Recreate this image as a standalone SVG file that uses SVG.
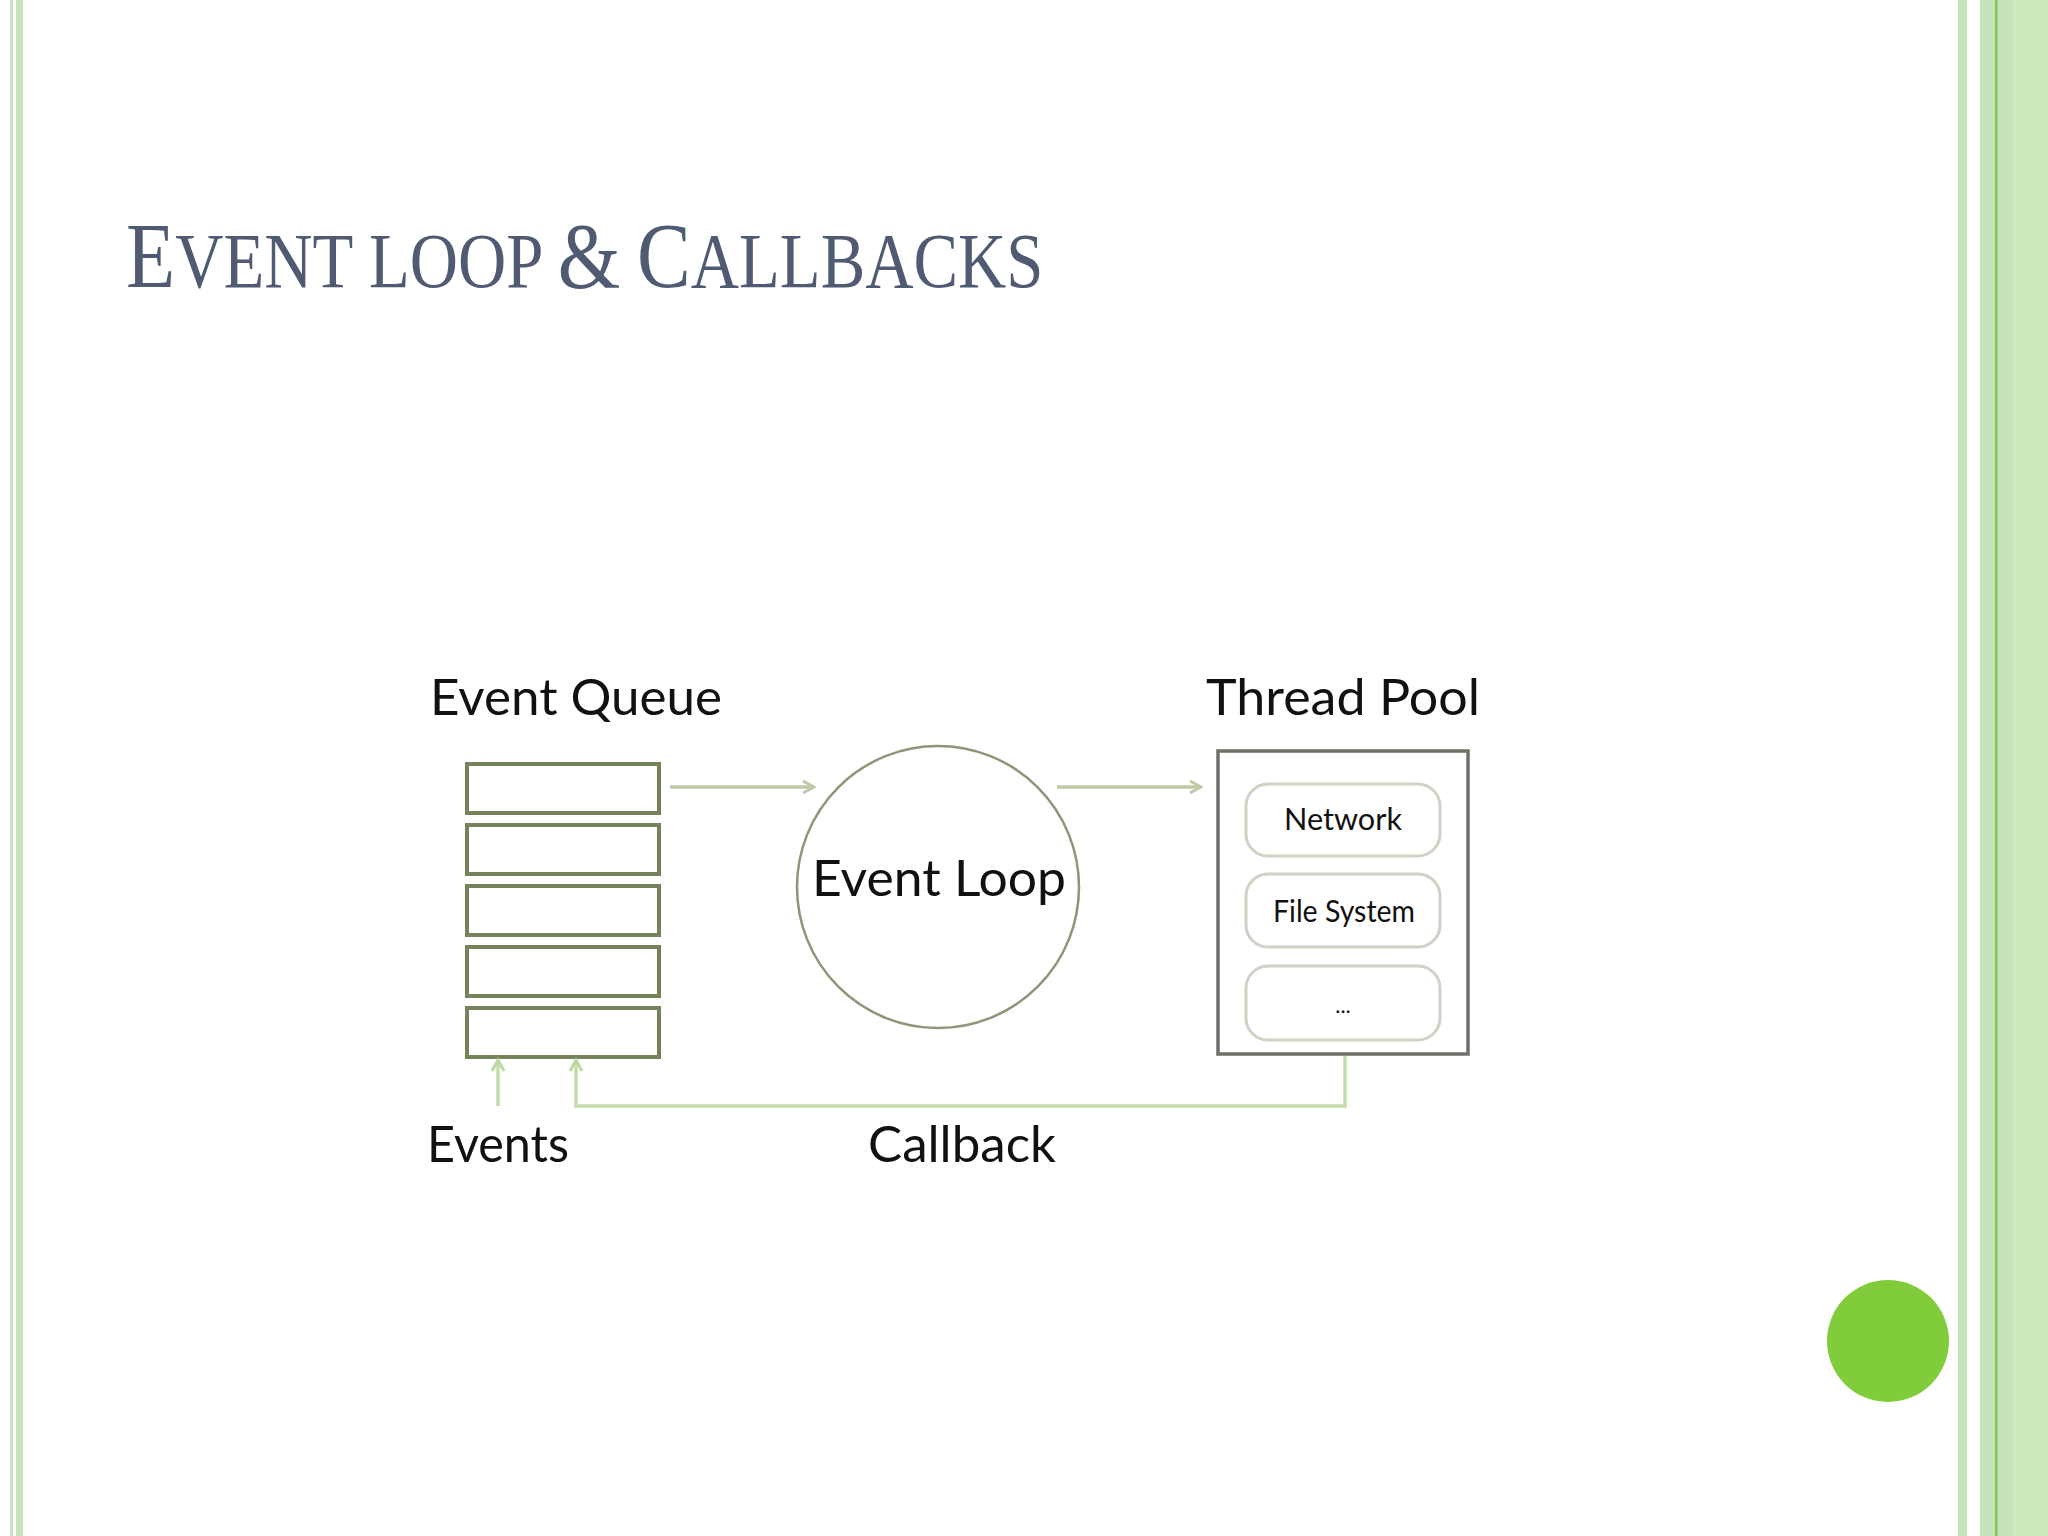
<svg xmlns="http://www.w3.org/2000/svg" width="2048" height="1536" viewBox="0 0 2048 1536">
<defs>
<style>
.lbl{font-family:Lato,"Open Sans","DejaVu Sans",sans-serif;fill:#111;}
.q{fill:none;stroke:#74835a;stroke-width:4;}
.pill{fill:#fff;stroke:#cdd3c5;stroke-width:3;}
.conn{fill:none;stroke:#bccaa6;stroke-width:3.5;}
.cb{fill:none;stroke:#c3dcab;stroke-width:3.5;}
.bl{fill:#c6e4b9;}
</style>
<marker id="ah" markerUnits="userSpaceOnUse" markerWidth="16" markerHeight="16" viewBox="0 0 16 16" refX="14" refY="8" orient="auto">
<path d="M3,2 L14,8 L3,14" fill="none" stroke="#bccaa6" stroke-width="3"/>
</marker>
<marker id="ahg" markerUnits="userSpaceOnUse" markerWidth="16" markerHeight="16" viewBox="0 0 16 16" refX="14" refY="8" orient="auto">
<path d="M3,2 L14,8 L3,14" fill="none" stroke="#bcd9a3" stroke-width="3"/>
</marker>
</defs>
<rect width="2048" height="1536" fill="#fff"/>
<g id="borders">
<rect class="bl" x="10" y="0" width="3" height="1536"/>
<rect class="bl" x="16" y="0" width="7" height="1536"/>
<rect class="bl" x="1958" y="0" width="9" height="1536"/>
<rect class="bl" x="1980" y="0" width="33" height="1536"/>
<rect x="2013" y="0" width="35" height="1536" fill="#cdeabf"/>
<rect x="1995" y="0" width="2.5" height="1536" fill="#7fcb52"/>
</g>
<g id="title">
<text transform="translate(126,287) scale(0.857,1)" x="0" y="0" font-family="'Liberation Serif',serif" fill="#505b73"><tspan font-size="94">E</tspan><tspan font-size="78">VENT LOOP </tspan><tspan font-size="94">&amp;</tspan><tspan font-size="78"> </tspan><tspan font-size="94">C</tspan><tspan font-size="78">ALLBACKS</tspan></text>
</g>
<g id="event-queue">
<text class="lbl" x="430" y="715" font-size="50" textLength="292" lengthAdjust="spacingAndGlyphs">Event Queue</text>
<rect class="q" x="467" y="764" width="192" height="49"/>
<rect class="q" x="467" y="825" width="192" height="49"/>
<rect class="q" x="467" y="886" width="192" height="49"/>
<rect class="q" x="467" y="947" width="192" height="49"/>
<rect class="q" x="467" y="1008" width="192" height="49"/>
</g>
<g id="event-loop">
<circle cx="938" cy="887" r="141" fill="#fff" stroke="#8d9679" stroke-width="2.5"/>
<text class="lbl" x="812" y="896" font-size="50" textLength="254" lengthAdjust="spacingAndGlyphs">Event Loop</text>
</g>
<g id="thread-pool">
<text class="lbl" x="1206" y="715" font-size="50" textLength="274" lengthAdjust="spacingAndGlyphs">Thread Pool</text>
<rect x="1218" y="751" width="250" height="303" fill="#fff" stroke="#6e7167" stroke-width="3.5"/>
<g id="network">
<rect class="pill" x="1246" y="784" width="194" height="72" rx="22"/>
<text class="lbl" x="1343" y="830" font-size="30" text-anchor="middle" textLength="118" lengthAdjust="spacingAndGlyphs">Network</text>
</g>
<g id="file-system">
<rect class="pill" x="1246" y="874" width="194" height="73" rx="22"/>
<text class="lbl" x="1344" y="922" font-size="30" text-anchor="middle" textLength="142" lengthAdjust="spacingAndGlyphs">File System</text>
</g>
<g id="more">
<rect class="pill" x="1246" y="966" width="194" height="74" rx="22"/>
<text class="lbl" x="1343" y="1013" font-size="22" text-anchor="middle" fill="#444">...</text>
</g>
</g>
<g id="labels">
<text class="lbl" x="427" y="1162" font-size="50" textLength="142" lengthAdjust="spacingAndGlyphs">Events</text>
<text class="lbl" x="868" y="1162" font-size="50" textLength="188" lengthAdjust="spacingAndGlyphs">Callback</text>
</g>
<g id="connectors">
<line class="conn" x1="670" y1="787" x2="814" y2="787" marker-end="url(#ah)"/>
<line class="conn" x1="1057" y1="787" x2="1201" y2="787" marker-end="url(#ah)"/>
<line class="cb" x1="498" y1="1106" x2="498" y2="1060" marker-end="url(#ahg)"/>
<path class="cb" d="M1345,1056 V1106 H576 V1060" marker-end="url(#ahg)"/>
</g>
<g id="dot">
<circle cx="1888" cy="1341" r="61" fill="#80cc3a"/>
</g>
</svg>
